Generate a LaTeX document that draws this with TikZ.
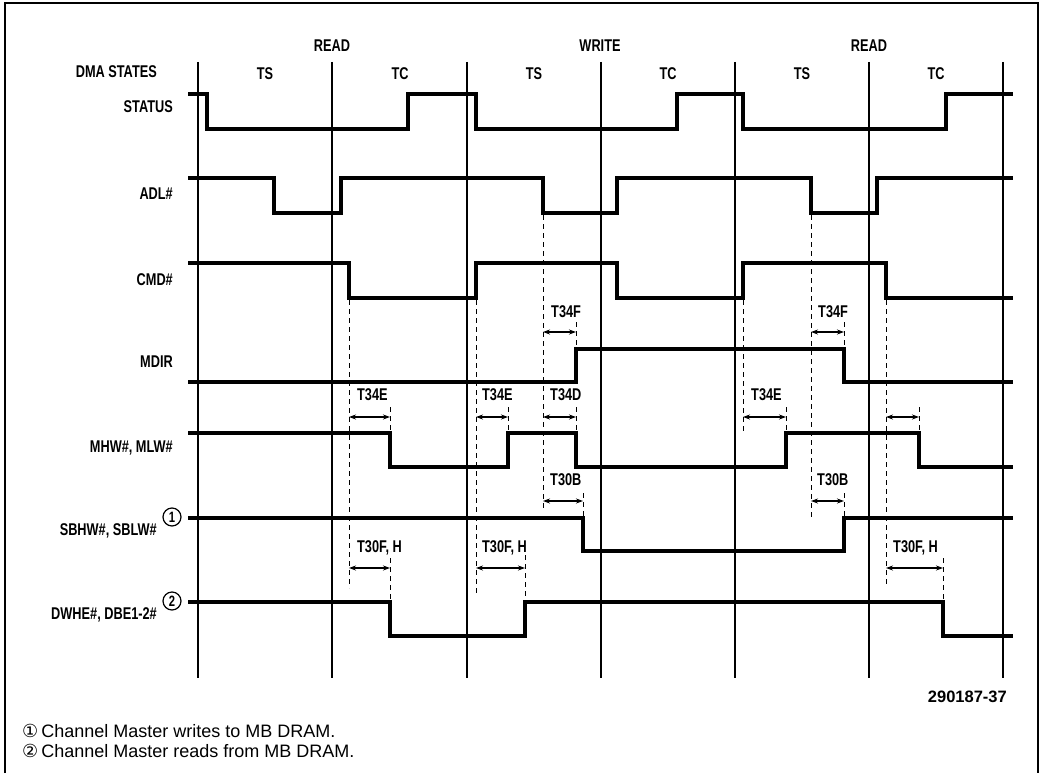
\documentclass[tikz,border=0pt]{standalone}
\usepackage{fontspec}
\setmainfont{Liberation Sans}
\newfontfamily\labfont[FakeStretch=0.75]{Liberation Sans}
\newfontfamily\symfont{DejaVu Sans}
\usetikzlibrary{arrows.meta}
\tikzset{
  sig/.style={line width=3.3pt, line join=miter},
  gridline/.style={line width=1.2pt},
  dline/.style={line width=1pt, dash pattern=on 5pt off 4pt},
  tm/.style={{Stealth[length=7pt,width=5pt]}-{Stealth[length=7pt,width=5pt]}, line width=1.1pt},
  lab/.style={font=\labfont\bfseries\fontsize{17}{17}\selectfont, inner sep=0pt},
  sname/.style={lab, anchor=base east},
  tname/.style={lab, anchor=base west},
  cnum/.style={draw, circle, line width=1.2pt, inner sep=0pt, minimum size=18pt, font=\labfont\bfseries\fontsize{15}{15}\selectfont},
}
\begin{document}
\begin{tikzpicture}[x=1pt,y=-1pt]
\useasboundingbox (0,0) rectangle (1040,773);
% frame
\draw[line width=1.5pt] (5,773) -- (5,3) -- (1038,3) -- (1038,773);

% header
\node[lab, anchor=base] (hr1) at (332,52) {READ};
\node[lab, anchor=base] (hw) at (600,52) {WRITE};
\node[lab, anchor=base] (hr2) at (869,52) {READ};
\node[sname] (dma) at (157,78) {DMA STATES};
\node[lab, anchor=base] (s1) at (265,80) {TS};
\node[lab, anchor=base] (s2) at (400,80) {TC};
\node[lab, anchor=base] (s3) at (534,80) {TS};
\node[lab, anchor=base] (s4) at (668,80) {TC};
\node[lab, anchor=base] (s5) at (802,80) {TS};
\node[lab, anchor=base] (s6) at (936,80) {TC};

% signal names
\node[sname] (nstatus) at (173,113) {STATUS};
\node[sname] (nadl) at (173,199) {ADL\#};
\node[sname] (ncmd) at (173,285) {CMD\#};
\node[sname] (nmdir) at (173,367) {MDIR};
\node[sname] (nmhw) at (173,452) {MHW\#, MLW\#};
\node[sname] (nsbhw) at (157,535) {SBHW\#, SBLW\#};
\node[sname] (ndwhe) at (157,619) {DWHE\#, DBE1-2\#};
\node[cnum] (c1) at (172,517) {1};
\node[cnum] (c2) at (172,601) {2};

% grid
\foreach \x in {198,332,467,601,735,869,1003}
  \draw[gridline] (\x,62) -- (\x,678);

% long dashed reference lines
\coordinate (d1t) at (349,300); \coordinate (d1b) at (349,588);
\coordinate (d2t) at (476,300); \coordinate (d2b) at (476,593);
\coordinate (d3t) at (543,215); \coordinate (d3b) at (543,508);
\coordinate (d4t) at (743,300); \coordinate (d4b) at (743,433);
\coordinate (d5t) at (811,215); \coordinate (d5b) at (811,517);
\coordinate (d6t) at (886,300); \coordinate (d6b) at (886,585);
\foreach \i in {1,...,6} \draw[dline] (d\i t) -- (d\i b);

% short dashed ticks
\draw[dline] (576,322) -- (576,349);
\draw[dline] (576,407) -- (576,433);
\draw[dline] (583,493) -- (583,518);
\draw[dline] (390,407) -- (390,433);
\draw[dline] (508,407) -- (508,433);
\draw[dline] (786,407) -- (786,433);
\draw[dline] (919,407) -- (919,433);
\draw[dline] (844,322) -- (844,349);
\draw[dline] (844,493) -- (844,518);
\draw[dline] (390,558) -- (390,602);
\draw[dline] (525,555) -- (525,602);
\draw[dline] (943,558) -- (943,602);

% timing arrows
\coordinate (a1l) at (543,332); \coordinate (a1r) at (576,332);
\coordinate (a2l) at (811,332); \coordinate (a2r) at (844,332);
\coordinate (a3l) at (349,417); \coordinate (a3r) at (390,417);
\coordinate (a4l) at (476,417); \coordinate (a4r) at (508,417);
\coordinate (a5l) at (543,417); \coordinate (a5r) at (576,417);
\coordinate (a6l) at (743,417); \coordinate (a6r) at (786,417);
\coordinate (a7l) at (886,417); \coordinate (a7r) at (919,417);
\coordinate (a8l) at (543,501); \coordinate (a8r) at (583,501);
\coordinate (a9l) at (811,501); \coordinate (a9r) at (844,501);
\coordinate (a10l) at (349,568); \coordinate (a10r) at (390,568);
\coordinate (a11l) at (476,568); \coordinate (a11r) at (525,568);
\coordinate (a12l) at (886,568); \coordinate (a12r) at (943,568);
\foreach \i in {1,...,12} \draw[tm] (a\i l) -- (a\i r);

% timing labels
\node[tname] (t1) at (551,317) {T34F};
\node[tname] (t2) at (818,317) {T34F};
\node[tname] (t3) at (357,400) {T34E};
\node[tname] (t4) at (482,400) {T34E};
\node[tname] (t5) at (550,400) {T34D};
\node[tname] (t6) at (751,400) {T34E};
\node[tname] (t7) at (550,485) {T30B};
\node[tname] (t8) at (817,485) {T30B};
\node[tname] (t9) at (357,552) {T30F, H};
\node[tname] (t10) at (482,552) {T30F, H};
\node[tname] (t11) at (893,552) {T30F, H};

% waveforms
\draw[sig] (188,94) -| (207,129) -| (408,94) -| (476,129) -| (677,94) -| (743,129) -| (946,94) -- (1013,94);
\draw[sig] (188,178) -| (274,213) -| (341,178) -| (543,213) -| (617,178) -| (811,213) -| (877,178) -- (1013,178);
\draw[sig] (188,263) -| (349,298) -| (476,263) -| (617,298) -| (743,263) -| (886,298) -- (1013,298);
\draw[sig] (188,382) -| (576,349) -| (844,382) -- (1013,382);
\draw[sig] (188,433) -| (390,467) -| (508,433) -| (576,467) -| (786,433) -| (919,467) -- (1013,467);
\draw[sig] (188,518) -| (583,551) -| (844,518) -- (1013,518);
\draw[sig] (188,602) -| (390,636) -| (525,602) -| (943,636) -- (1013,636);

% figure id and notes
\node[anchor=base east, inner sep=0pt, font=\bfseries\fontsize{16.5}{16.5}\selectfont] (fid) at (1007,702) {290187-37};
\node[anchor=base west, inner sep=0pt, font=\fontsize{18}{18}\selectfont] (note1) at (22,737) {{\symfont ①}\,Channel Master writes to MB DRAM.};
\node[anchor=base west, inner sep=0pt, font=\fontsize{18}{18}\selectfont] (note2) at (22,757) {{\symfont ②}\,Channel Master reads from MB DRAM.};
\end{tikzpicture}
\end{document}
